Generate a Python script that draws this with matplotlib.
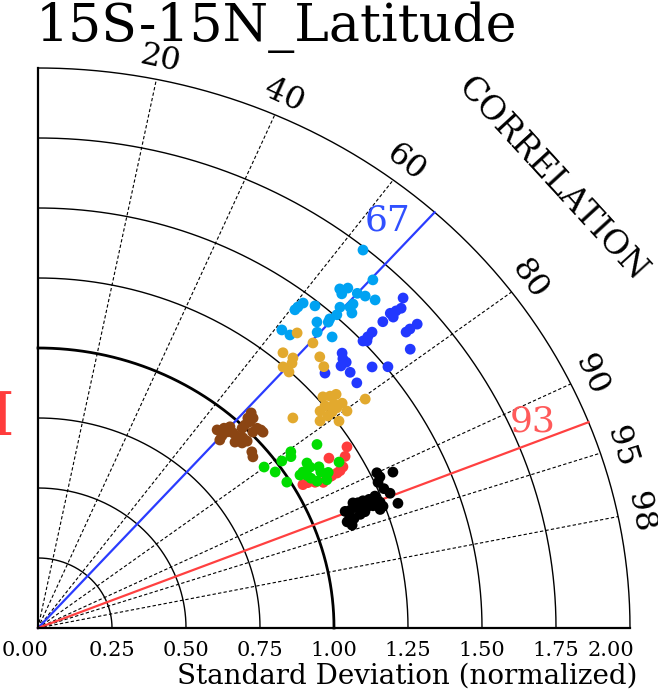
import numpy as np
import matplotlib
matplotlib.use("Agg")
import matplotlib.pyplot as plt

plt.rcParams['font.family'] = ['DejaVu Serif']

# normalized standard deviation and correlation of each run, per group
lblue_std = [1.740, 1.681, 1.583, 1.603, 1.574, 1.610, 1.621, 1.634, 1.572, 1.557, 1.534, 1.546,
             1.466, 1.444, 1.430, 1.483, 1.507, 1.480, 1.468, 1.443, 1.346, 1.349, 1.416, 1.438]
lblue_cor = [0.631, 0.673, 0.644, 0.653, 0.652, 0.670, 0.682, 0.697, 0.677, 0.677, 0.665, 0.686,
             0.611, 0.608, 0.607, 0.631, 0.670, 0.666, 0.668, 0.653, 0.612, 0.631, 0.666, 0.691]

dblue_std = [1.706, 1.676, 1.657, 1.637, 1.635, 1.598, 1.679, 1.649, 1.632, 1.546, 1.524, 1.502,
             1.512, 1.604, 1.421, 1.409, 1.409, 1.387, 1.464, 1.506, 1.395, 1.330, 1.388]
dblue_cor = [0.723, 0.732, 0.730, 0.727, 0.734, 0.729, 0.763, 0.762, 0.762, 0.730, 0.731, 0.731,
             0.735, 0.784, 0.723, 0.731, 0.739, 0.738, 0.771, 0.785, 0.756, 0.729, 0.776]

orange_std = [1.370, 1.378, 1.285, 1.293, 1.277, 1.358, 1.343, 1.247, 1.247, 1.268, 1.288, 1.308,
              1.375, 1.304, 1.281, 1.280, 1.253, 1.228, 1.300, 1.238, 1.257, 1.206, 1.142, 1.258]
orange_cor = [0.639, 0.674, 0.644, 0.666, 0.672, 0.701, 0.719, 0.664, 0.680, 0.759, 0.766, 0.770,
              0.804, 0.788, 0.781, 0.789, 0.774, 0.776, 0.803, 0.791, 0.809, 0.790, 0.754, 0.790]

brown_std = [0.931, 0.951, 0.926, 0.910, 0.968, 0.959, 0.958, 0.940, 0.992, 1.007, 1.027, 1.044,
             1.053, 1.028, 1.033, 1.033, 1.008, 0.970, 0.972, 0.955, 0.958, 0.949, 0.948, 1.032]
brown_cor = [0.650, 0.661, 0.671, 0.675, 0.670, 0.687, 0.702, 0.708, 0.695, 0.694, 0.697, 0.696,
             0.684, 0.720, 0.729, 0.736, 0.720, 0.714, 0.727, 0.722, 0.754, 0.765, 0.674, 0.687]

red_std = [1.228, 1.205, 1.155, 1.180, 1.165, 1.152, 1.132, 1.095, 1.071, 1.049, 1.031, 1.124]
red_cor = [0.850, 0.861, 0.851, 0.873, 0.876, 0.877, 0.877, 0.880, 0.874, 0.869, 0.868, 0.877]

green_std = [1.148, 1.061, 1.051, 1.017, 0.956, 0.976, 0.989, 1.083, 1.084, 1.054, 1.060, 1.066,
             1.110, 1.106, 1.127, 1.177, 1.079, 1.040, 1.110]
green_cor = [0.821, 0.805, 0.813, 0.810, 0.799, 0.821, 0.850, 0.839, 0.848, 0.849, 0.858, 0.865,
             0.855, 0.864, 0.870, 0.864, 0.874, 0.851, 0.879]

black_std = [1.272, 1.275, 1.261, 1.322, 1.270, 1.283, 1.232, 1.209, 1.188, 1.170, 1.154, 1.240,
             1.244, 1.213, 1.192, 1.295, 1.160, 1.135, 1.118, 1.180, 1.162, 1.231, 1.126, 1.111,
             1.123, 1.137]
black_cor = [0.900, 0.906, 0.911, 0.907, 0.920, 0.927, 0.924, 0.925, 0.924, 0.924, 0.922, 0.932,
             0.937, 0.933, 0.932, 0.939, 0.929, 0.929, 0.928, 0.936, 0.937, 0.939, 0.936, 0.940,
             0.945, 0.939]

std_ticks = [0.0, 0.25, 0.5, 0.75, 1.0, 1.25, 1.5, 1.75, 2.0]
cor_lines = [0.2, 0.4, 0.6, 0.8, 0.9, 0.95, 0.98]
ref_cor_blue = 0.67
ref_cor_red = 0.93
title = "15S-15N_Latitude"


def xy(s, c):
    s = np.asarray(s, dtype=float)
    c = np.asarray(c, dtype=float)
    return s * c, s * np.sqrt(1 - c ** 2)


W, H = 658, 695
fig = plt.figure(figsize=(W / 100, H / 100), dpi=100)
ax = fig.add_axes([38 / W, 67 / H, 592 / W, 560 / H])
ax.set_xlim(0, 2)
ax.set_ylim(0, 2)
ax.axis('off')

# px per data unit, for text rotation along the stretched arcs
sx, sy = 592 / 2, 560 / 2

# std dev arcs
th = np.linspace(0, np.pi / 2, 300)
for r in std_ticks[1:]:
    lw = 2.0 if r == 1.0 else 1.0
    ax.plot(r * np.cos(th), r * np.sin(th), color='black', lw=lw, clip_on=False)

# correlation rays
for c in cor_lines:
    x, y = xy([0, 2], [c, c])
    ax.plot(x, y, color='black', lw=0.8, ls=(0, (3, 2)), clip_on=False)
    lx, ly = xy(2.075, c)
    ang = np.degrees(np.arctan2(ly * sy, lx * sx)) - 90
    ax.text(lx, ly, str(int(round(c * 100))), fontsize=23, rotation=ang,
            rotation_mode='anchor', ha='center', va='center')

# reference correlation lines
x, y = xy([0, 2], [ref_cor_blue] * 2)
ax.plot(x, y, color='#2a3cff', lw=1.6, clip_on=False)
x, y = xy([0, 2], [ref_cor_red] * 2)
ax.plot(x, y, color='#ff4040', lw=1.6, clip_on=False)
lx, ly = xy(1.876, 0.630)
ax.text(lx, ly, str(int(ref_cor_blue * 100)), color='#3050ff', fontsize=26,
        ha='center', va='center')
lx, ly = xy(1.827, 0.915)
ax.text(lx, ly, str(int(ref_cor_red * 100)), color='#ff5a5a', fontsize=26,
        ha='center', va='center')

# axes
ax.plot([0, 0], [0, 2], color='black', lw=1.6, clip_on=False)
ax.plot([0, 2], [0, 0], color='black', lw=1.6, clip_on=False)

# points
groups = [
    (lblue_std, lblue_cor, '#00a2f2'),
    (dblue_std, dblue_cor, '#2238ff'),
    (orange_std, orange_cor, '#e2a92e'),
    (brown_std, brown_cor, '#8b4513'),
    (red_std, red_cor, '#ff3c3c'),
    (green_std, green_cor, '#00dd00'),
    (black_std, black_cor, 'black'),
]
for s, c, col in groups:
    x, y = xy(s, c)
    ax.scatter(x, y, s=60, color=col, edgecolors='none', zorder=5, clip_on=False)

# tick labels (end labels pulled inward to stay on the page)
for v in std_ticks:
    if v == std_ticks[0]:
        ax.text(-36 / sx, -0.082, f"{v:.2f}", fontsize=15, ha='left', va='center')
    elif v == std_ticks[-1]:
        ax.text(v + 4 / sx, -0.082, f"{v:.2f}", fontsize=15, ha='right', va='center')
    else:
        ax.text(v, -0.082, f"{v:.2f}", fontsize=15, ha='center', va='center')
ax.text(1.247, -0.172, "Standard Deviation (normalized)", fontsize=20,
        ha='center', va='center')

lx, ly = xy(2.361, 0.735)
ax.text(lx, ly, "CORRELATION", fontsize=24, rotation=-47.5,
        rotation_mode='anchor', ha='center', va='center')

fig.text(36 / W, 1 - 27 / H, title, fontsize=37.5, ha='left', va='center')
fig.text(3 / W, 1 - 418 / H, "I", fontsize=43, color='#ff3c3c', ha='center', va='center')

fig.savefig("out.png", dpi=100)
